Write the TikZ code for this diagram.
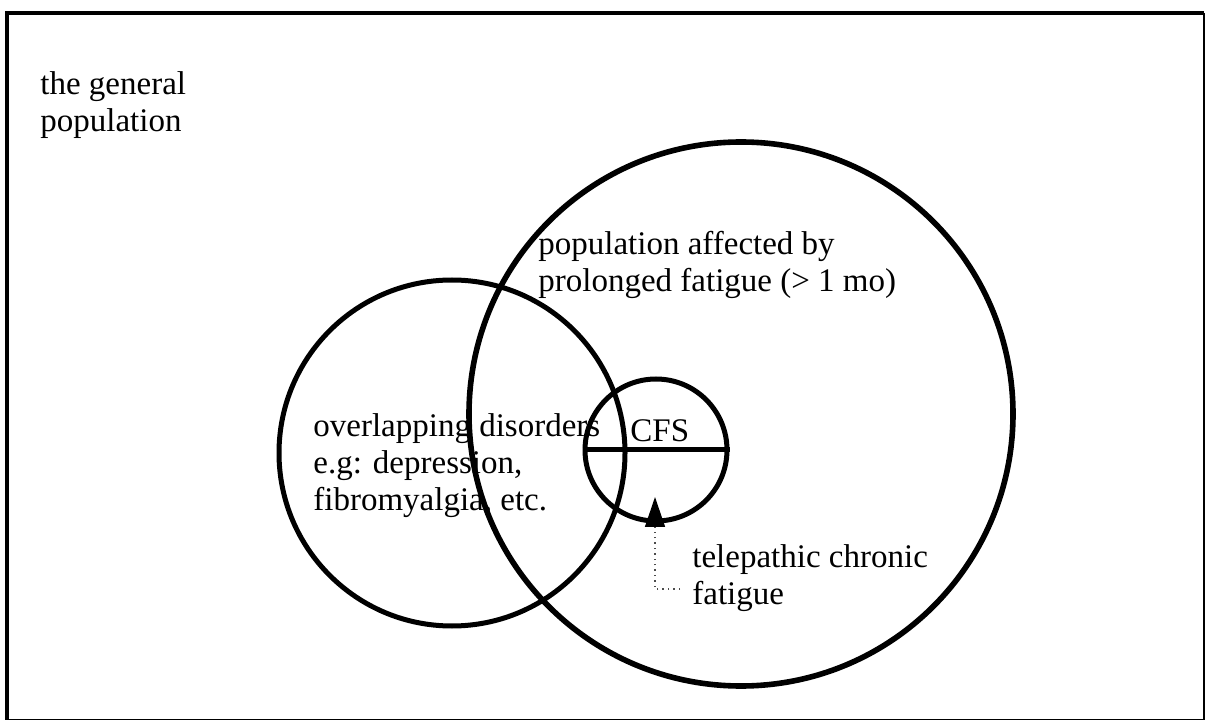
\documentclass[tikz,border=0pt]{standalone}
\usepackage{fontspec}
\setmainfont{Liberation Serif}
\usetikzlibrary{arrows.meta}

\begin{document}
\begin{tikzpicture}
[x=0.5pt,y=-0.5pt,
ring/.style={circle,draw=black,line width=2.8pt,inner sep=0pt},
lbl/.style={inner sep=0pt,align=left,anchor=base west,font=\fontsize{16.5}{18.5}\selectfont}]
\useasboundingbox (0,0) rectangle (1205,721);
% frame
\draw[line width=2pt] (7,719.5) -- (7,13) -- (1204,13);
\draw[line width=0.6pt] (1204,13) -- (1204,719.5) -- (7,719.5);
% circles
\node[ring,minimum size=272pt] at (741,414) (fatigue) {};
\node[ring,minimum size=173pt,line width=2.5pt] at (452,453) (overlap) {};
\node[ring,minimum size=71pt,line width=2.5pt] at (656,450) (cfs) {};
\draw[line width=2.5pt] (cfs.west) -- (cfs.east);
% labels (base = last line)
\node[lbl] at (40,132) (general) {the general\\population};
\node[lbl] at (538,292) (affected) {population affected by\\prolonged fatigue (> 1 mo)};
\node[lbl] at (313,510) (disorders) {overlapping disorders\\e.g: depression,\\fibromyalgia, etc.};
\node[lbl] at (630,442) (cfstext) {CFS};
\node[lbl] at (692,604) (telepathic) {telepathic chronic\\fatigue};
% arrow
\coordinate (tail) at (680,589);
\coordinate (tip) at (655,497);
\draw[black!70,dotted,line width=0.7pt,-{Triangle[length=15pt,width=10pt,color=black]}] (tail) -| (tip);
\end{tikzpicture}
\end{document}
